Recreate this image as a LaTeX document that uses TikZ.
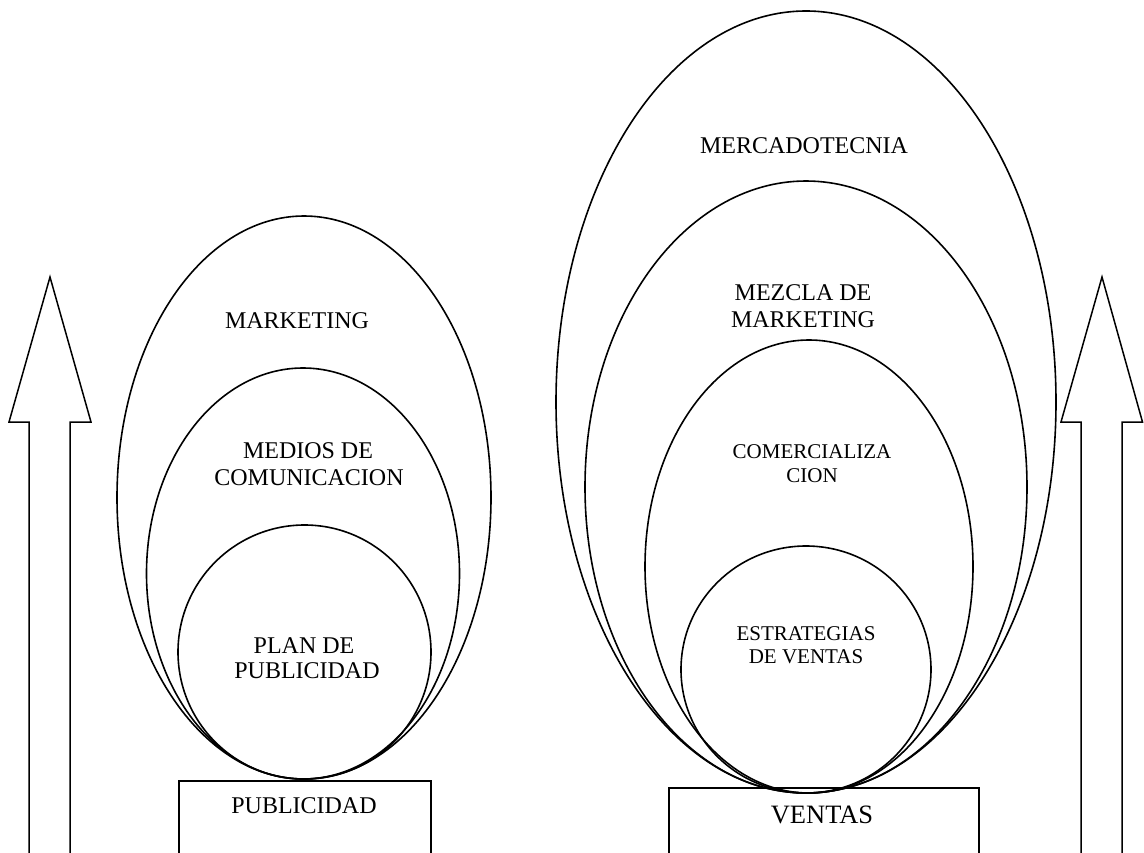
\documentclass[tikz,border=0pt]{standalone}
\usepackage{fontspec}
\setmainfont{Liberation Serif}
\begin{document}
\begin{tikzpicture}[x=1pt,y=-1pt,
  outline/.style={draw=black,line width=1.6pt},
  arrowshape/.style={draw=black,line width=1.5pt,line join=miter},
  boxshape/.style={draw=black,line width=1.5pt,inner sep=0pt,anchor=north west},
  lbl/.style={inner sep=0pt,anchor=base,font=\fontsize{24}{27}\selectfont},
  lbls/.style={inner sep=0pt,anchor=base,font=\fontsize{21}{24}\selectfont},
  lblb/.style={inner sep=0pt,anchor=base,font=\fontsize{26.5}{30}\selectfont}]
\useasboundingbox (0,0) rectangle (1144,852);
\clip (0,0) rectangle (1144,852);
\fill[white] (0,0) rectangle (1144,852);

% arrows
\draw[arrowshape] (29,870) -- (29,422) -- (9,422) -- (50,277) -- (91,422) -- (70,422) -- (70,870);
\draw[arrowshape] (1081,870) -- (1081,422) -- (1061,422) -- (1102,277) -- (1142.5,422) -- (1122,422) -- (1122,870);

% boxes
\node[boxshape,minimum width=252pt,minimum height=100pt] (pubbox) at (178,780) {};
\node[boxshape,minimum width=310pt,minimum height=100pt] (venbox) at (668,787) {};

% left group
\draw[outline] (304,497.5) ellipse [x radius=187pt, y radius=281.5pt];
\draw[outline] (303,573.5) ellipse [x radius=156.5pt, y radius=205.5pt];
\draw[outline] (304.5,652) ellipse [x radius=126.5pt, y radius=127pt];

% right group
\draw[outline] (806,402) ellipse [x radius=250pt, y radius=391pt];
\draw[outline] (806,487) ellipse [x radius=221pt, y radius=306pt];
\draw[outline] (809,566.5) ellipse [x radius=164pt, y radius=226.5pt];
\draw[outline] (806,669.5) ellipse [x radius=125pt, y radius=123.5pt];

% labels left
\node[lbl] (mkt) at (297,328) {MARKETING};
\node[lbl] (medA) at (308,458) {MEDIOS DE};
\node[lbl] (medB) at (309,485) {COMUNICACION};
\node[lbl] (planA) at (304,653) {PLAN DE};
\node[lbl] (planB) at (307,678) {PUBLICIDAD};
\node[lbl] (pub) at (304,813) {PUBLICIDAD};

% labels right
\node[lbl] (merc) at (804,153) {MERCADOTECNIA};
\node[lbl] (mezA) at (803,300) {MEZCLA DE};
\node[lbl] (mezB) at (803,327) {MARKETING};
\node[lbls] (comA) at (812,458) {COMERCIALIZA};
\node[lbls] (comB) at (812,482) {CION};
\node[lbls] (estA) at (806,640) {ESTRATEGIAS};
\node[lbls] (estB) at (806,663) {DE VENTAS};
\node[lblb] (ven) at (822,823) {VENTAS};
\end{tikzpicture}
\end{document}
